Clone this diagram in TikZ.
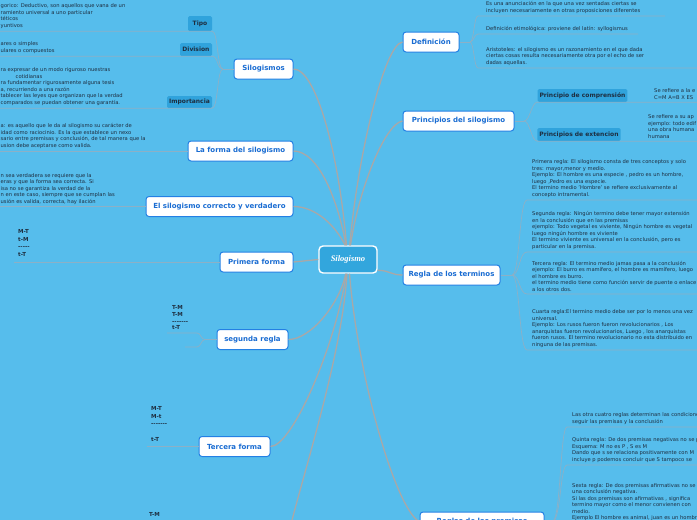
\documentclass[tikz,border=0pt]{standalone}
\usepackage{fontspec}
\setmainfont{DejaVu Sans}
\newfontfamily\rootfont{Liberation Serif}
\usetikzlibrary{positioning}

\definecolor{bgblue}{RGB}{86,189,236}
\definecolor{rootblue}{RGB}{50,166,221}
\definecolor{subblue}{RGB}{48,163,220}
\definecolor{nodeline}{RGB}{35,128,228}
\definecolor{nodetext}{RGB}{25,108,210}
\definecolor{linkgray}{RGB}{168,168,168}
\definecolor{ulgray}{RGB}{140,176,198}
\definecolor{txtdark}{RGB}{30,46,64}

\tikzset{
  root/.style={draw=white, line width=1.4pt, fill=rootblue, rounded corners=4pt,
    text=white, font={\rootfont\bfseries\itshape\fontsize{8.5}{10}\selectfont},
    minimum width=58pt, minimum height=27pt, inner sep=0pt},
  main/.style={draw=nodeline, line width=1pt, fill=white, rounded corners=3pt,
    text=nodetext, font={\fontsize{7}{8}\selectfont\bfseries},
    minimum height=20pt, inner xsep=3pt, inner ysep=0pt},
  sub/.style={fill=subblue, rounded corners=1.5pt, text=txtdark,
    font={\fontsize{6}{7}\selectfont\bfseries}, minimum height=13pt, inner xsep=2pt, inner ysep=0pt},
  txt/.style={align=left, text=txtdark, font={\fontsize{5.2}{6.5}\selectfont},
    inner xsep=0pt, inner ysep=2.5pt, anchor=south west},
  form/.style={align=left, text=txtdark, font={\fontsize{5.5}{7.5}\selectfont\bfseries},
    inner sep=0pt, anchor=south west},
  link/.style={draw=linkgray, line width=1.3pt},
  uline/.style={draw=ulgray, line width=0.7pt},
}
% dashes without ligatures
\newcommand\raya[1]{\foreach \i in {1,...,#1}{-}}

\begin{document}
\begin{tikzpicture}[x=1pt, y=1pt]
  \useasboundingbox (0,0) rectangle (697,-520);
  \fill[bgblue] (0,0) rectangle (697,-520);
  \clip (0,0) rectangle (697,-520);

  % centre
  \node[root] (root) at (348,-259.5) {Silogismo};

  % left side
  \node[main, minimum width=59pt] (silogismos) at (263.5,-69) {Silogismos};
  \node[main, minimum width=105pt] (forma) at (240.5,-151) {La forma del silogismo};
  \node[main, minimum width=147pt] (correcto) at (219.5,-206.5) {El silogismo correcto y verdadero};
  \node[main, minimum width=73pt] (primera) at (256.5,-262) {Primera forma};
  \node[main, minimum width=71pt] (segunda) at (252.5,-339.5) {segunda regla};
  \node[main, minimum width=71pt] (tercera) at (234.5,-446.5) {Tercera forma};
  \coordinate (cuarta) at (290,-528);

  % right side
  \node[main, minimum width=56pt] (definicion) at (431,-42) {Definición};
  \node[main, minimum width=111pt] (principios) at (458.5,-121) {Principios del silogismo};
  \node[main, minimum width=97pt] (terminos) at (451.5,-275) {Regla de los terminos};
  \node[main, minimum width=124pt] (premisas) at (482,-522) {Reglas de las premisas};

  \draw[link] (silogismos.east) .. controls +(22,0) and +(-8,95) .. (root.96);
  \draw[link] (forma.east) .. controls +(25,0) and +(-8,45) .. (root.98);
  \draw[link] (correcto.east) .. controls +(22,0) and +(-10,20) .. (root.101);
  \draw[link] (primera.east) -- (root.west);
  \draw[link] (segunda.east) .. controls +(22,0) and +(-6,-30) .. (root.-99);
  \draw[link] (tercera.east) .. controls +(22,0) and +(-10,-70) .. (root.-97);
  \draw[link] (cuarta) .. controls +(15,60) and +(-5,-80) .. (root.-94);
  \draw[link] (root.-84) .. controls +(8,-100) and +(-25,15) .. (premisas.west);
  \draw[link] (root.-20) .. controls +(12,0) and +(-12,0) .. (terminos.west);
  \draw[link] (root.83) .. controls +(8,90) and +(-18,-2) .. (definicion.west);
  \draw[link] (root.80) .. controls +(8,55) and +(-18,-3) .. (principios.west);

  % Silogismos
  \coordinate (sfork) at (223,-69);
  \node[sub, minimum width=24pt, minimum height=15pt] (tipo) at (200,-23.5) {Tipo};
  \node[sub, minimum width=32pt] (division) at (196,-49.5) {Division};
  \node[sub, minimum width=45pt, minimum height=12pt] (importancia) at (189.5,-102) {Importancia};
  \draw[uline] (silogismos.west) -- (sfork);
  \draw[uline] (sfork) .. controls +(-6,0) and +(6,0) .. (tipo.south east) -- ++(-220,0);
  \draw[uline] (sfork) .. controls +(-6,0) and +(6,0) .. (division.south east) -- ++(-220,0);
  \draw[uline] (sfork) .. controls +(-6,0) and +(6,0) .. (importancia.south east) -- ++(-220,0);
  \node[txt] (tipotxt) at (0.5,-31) {gorico: Deductivo, son aquellos que vana de un\\ramiento universal a uno particular\\téticos\\yuntivos};
  \node[txt] (divtxt) at (0.5,-56) {ares o simples\\ulares o compuestos};
  \node[txt] (imptxt) at (0.5,-108) {ra expresar de un modo riguroso nuestras\\\hspace*{15pt}cotidianas\\ra fundamentar rigurosamente alguna tesis\\a, recurriendo a una razón\\tablecer las leyes que organizan que la verdad\\ comparados se puedan obtener una garantía.};

  % forma / correcto
  \draw[uline] (forma.west) -- ++(-190,0);
  \node[txt] (formatxt) at (0.5,-151) {a: es aquello que le da al silogismo su carácter de\\idad como raciocinio. Es la que establece un nexo\\sario entre premisas y conclusión, de tal manera que la\\usion  debe aceptarse como valida.};
  \draw[uline] (correcto.west) -- ++(-150,0);
  \node[txt] (correctotxt) at (0.5,-207) {n sea verdadera se requiere que la\\eras y que la forma sea correcta. Si\\isa no se garantiza la verdad de la\\n en este caso, siempre que se cumplan las\\usión es valida, correcta, hay ilación};

  % formas
  \draw[uline] (primera.west) -- ++(-206,0);
  \node[form] (primeratxt) at (18,-256.5) {M-T\\t-M\\\raya{5}\\t-T};
  \coordinate (gfork) at (205,-339.5);
  \draw[uline] (segunda.west) -- (gfork);
  \draw[uline] (gfork) .. controls +(-4,0) and +(4,0) .. (197,-333) -- (167,-333);
  \draw[uline] (gfork) .. controls +(-4,0) and +(4,0) .. (197,-347) -- (185,-347);
  \node[form, font={\fontsize{5.5}{6.7}\selectfont\bfseries}] (segundatxt) at (172,-330) {T-M\\T-M\\\raya{7}\\t-T};
  \draw[uline] (tercera.west) -- ++(-52,0);
  \node[form] (terceratxt) at (151,-442) {M-T\\M-t\\\raya{7}\\[1pt]\\t-T};
  \node[form] (cuartatxt) at (149,-517) {T-M};

  % Definicion
  \coordinate (dfork) at (470,-42);
  \draw[uline] (definicion.east) -- (dfork);
  \node[txt, inner xsep=8pt] (def1) at (478,-16) {Es una anunciación en la que una vez sentadas ciertas se\\incluyen necesariamente en otras proposiciones diferentes};
  \node[txt, inner xsep=8pt] (def2) at (478,-34) {Definición etimológica: proviene del latín: syllogismus};
  \node[txt, inner xsep=8pt] (def3) at (478,-68) {Aristoteles: el silogismo es un razonamiento en el que dada\\ciertas cosas resulta necesariamente otra por el echo de ser\\dadas aquellas.};
  \draw[uline] (dfork) .. controls +(4,0) and +(-4,0) .. (def1.south west) -- ++(187,0);
  \draw[uline] (dfork) .. controls +(4,0) and +(-4,0) .. (def2.south west) -- ++(160,0);
  \draw[uline] (dfork) .. controls +(4,0) and +(-4,0) .. (def3.south west) -- ++(225,0);

  % Principios
  \coordinate (pfork) at (524,-121);
  \node[sub, minimum width=89pt] (comprension) at (582.5,-95.5) {Principio de comprensión};
  \node[sub, minimum width=82pt] (extencion) at (579,-134.5) {Principios de extencion};
  \draw[uline] (principios.east) -- (pfork);
  \draw[uline] (pfork) .. controls +(6,0) and +(-6,0) .. (comprension.south west) -- ++(165,0);
  \draw[uline] (pfork) .. controls +(6,0) and +(-6,0) .. (extencion.south west) -- ++(165,0);
  \node[txt] (comptxt) at (654,-102) {Se refiere a la e\\C=M A=B X ES};
  \node[txt] (exttxt) at (648,-141) {Se refiere a su ap\\ejemplo: todo edif\\una obra humana\\humana};

  % Regla de los terminos
  \coordinate (tfork) at (512,-275);
  \draw[uline] (terminos.east) -- (tfork);
  \node[txt, inner xsep=5pt] (t1) at (527,-200) {Primera regla: El silogismo consta de tres conceptos y solo\\tres: mayor,menor y medio.\\Ejemplo: El hombre es una especie , pedro es un hombre,\\luego ,Pedro es una especie.\\El termino medio 'Hombre' se refiere exclusivamente al\\concepto intramental.};
  \node[txt, inner xsep=5pt] (t2) at (527,-252) {Segunda regla: Ningún termino debe tener mayor extensión\\en la conclusión que en las premisas\\ejemplo: Todo vegetal es viviente, Ningún hombre es vegetal\\luego ningún hombre es viviente\\El termino viviente es universal en la conclusión,  pero es\\particular en la premisa.};
  \node[txt, inner xsep=5pt] (t3) at (527,-294) {Tercera regla: El termino medio jamas pasa a la conclusión\\ejemplo: El burro es mamífero, el hombre es mamífero, luego\\el hombre es burro.\\el termino medio tiene como función servir de puente o enlace\\a los otros dos.};
  \node[txt, inner xsep=5pt] (t4) at (527,-350) {Cuarta regla:El termino medio debe ser por lo menos una vez\\universal.\\Ejemplo: Los rusos fueron fueron revolucionarios , Los\\anarquistas fueron revolucionarios, Luego , los anarquistas\\fueron rusos. El termino revolucionario no esta distribuido en\\ninguna de las premisas.};
  \foreach \t in {t1,t2,t3,t4}{
    \draw[uline] (tfork) .. controls +(8,0) and +(-8,0) .. (\t.south west) -- ++(175,0);
  }

  % Reglas de las premisas
  \coordinate (qfork) at (552,-522);
  \draw[uline] (premisas.east) -- (qfork);
  \node[txt, inner xsep=5pt] (p1) at (567,-427) {Las otra cuatro reglas determinan las condiciones que deben\\seguir las premisas y la conclusión};
  \node[txt, inner xsep=5pt] (p2) at (567,-465) {Quinta regla: De dos premisas negativas no se puede concluir\\Esquema: M no es P , S es M\\Dando que s se relaciona positivamente con M\\incluye p podemos concluir que S tampoco se};
  \node[txt, inner xsep=5pt] (p3) at (567,-530) {Sexta regla: De dos premisas afirmativas no se puede obtener\\una conclusión negativa.\\Si las dos premisas son afirmativas , significa\\termino mayor como el menor convienen con\\medio.\\Ejemplo El hombre es animal, juan es un hombre\\entonces, juan es animal.};
  \foreach \p in {p1,p2,p3}{
    \draw[uline] (qfork) .. controls +(9,0) and +(-7,0) .. (\p.south west) -- ++(140,0);
  }
\end{tikzpicture}
\end{document}
